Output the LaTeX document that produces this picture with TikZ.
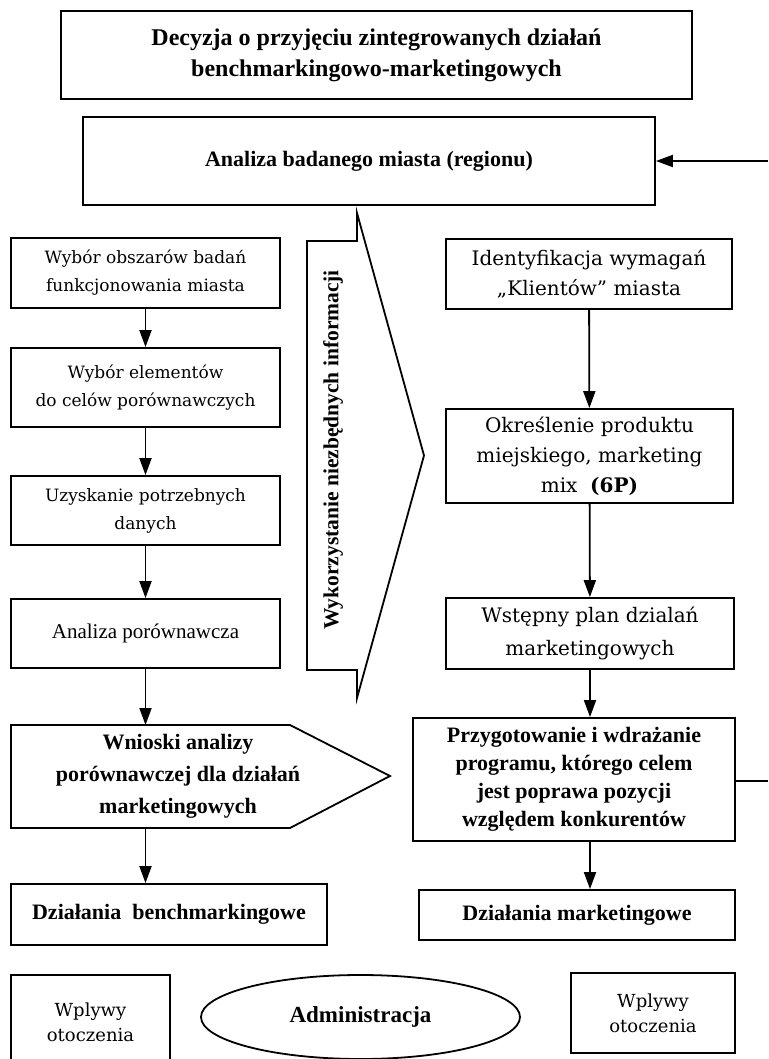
\documentclass[tikz,border=0pt]{standalone}
\usepackage{fontspec}
\setmainfont{Liberation Serif}
\newfontfamily\lucida{DejaVu Serif}
\usepackage{tikz}
\usetikzlibrary{shapes.geometric, arrows.meta, calc}

\begin{document}
\begin{tikzpicture}[x=1pt, y=-1pt,
    process/.style={rectangle, draw, line width=1.8pt, align=center, inner sep=0pt, font=\lucida\fontsize{17}{28}\selectfont},
    wideprocess/.style={process, font=\lucida\fontsize{20}{30}\selectfont},
    plainbox/.style={rectangle, draw, line width=1.8pt, align=center, inner sep=0pt, font=\fontsize{21}{28}\selectfont},
    boldbox/.style={rectangle, draw, line width=1.8pt, align=center, inner sep=0pt, font=\fontsize{22}{28}\selectfont\bfseries},
    influence/.style={rectangle, draw, line width=1.8pt, align=center, inner sep=0pt, font=\lucida\fontsize{18}{25}\selectfont},
    outline/.style={line width=1.8pt, line join=miter},
    arrow/.style={-{Triangle[length=17pt, width=12pt]}, line width=1.8pt}
]
\useasboundingbox (0,0) rectangle (768,1059);
\clip (0,0) rectangle (768,1059);

\node[boldbox, minimum width=631, minimum height=88, font=\fontsize{24}{31}\selectfont\bfseries] (decision) at (376.5,55) {Decyzja o przyjęciu zintegrowanych działań\\benchmarkingowo-marketingowych};
\node[boldbox, minimum width=572, minimum height=88] (analysis) at (369,161) {Analiza badanego miasta (regionu)};

\node[process, minimum width=269, minimum height=70] (areas) at (145.5,273) {Wybór obszarów badań\\funkcjonowania miasta};
\node[process, minimum width=269, minimum height=79] (elements) at (145.5,387.5) {Wybór elementów\\do celów porównawczych};
\node[process, minimum width=269, minimum height=69] (data) at (145.5,510.5) {Uzyskanie potrzebnych\\danych};
\node[plainbox, minimum width=269, minimum height=69] (compare) at (145.5,633.5) {Analiza porównawcza};
\node[font=\fontsize{22}{32}\selectfont\bfseries, align=center] (conclusions) at (178,776) {Wnioski analizy\\porównawczej dla działań\\marketingowych};
\coordinate (conclusions top) at (145.5,725);
\coordinate (conclusions bottom) at (145.5,828);
\draw[outline] (11,725) -- (290,725) -- (390,776) -- (290,828) -- (11,828) -- cycle;
\node[boldbox, minimum width=316, minimum height=61] (bench) at (169,914.5) {Działania~~benchmarkingowe};

\draw[outline] (307,241) -- (357,241) -- (357,213) -- (424,455.5) -- (357,698) -- (357,670) -- (307,670) -- cycle;
\node[rotate=90, font=\fontsize{21.5}{24}\selectfont\bfseries] (info) at (333,450) {Wykorzystanie niezbędnych informacji};

\node[wideprocess, minimum width=286, minimum height=70] (clients) at (589,274) {Identyfikacja wymagań\\„Klientów” miasta};
\node[wideprocess, minimum width=287, minimum height=94] (product) at (589.5,456) {Określenie produktu\\miejskiego, marketing\\mix~~\textbf{(6P)}};
\node[wideprocess, minimum width=288, minimum height=71, font=\lucida\fontsize{20}{33}\selectfont] (plan) at (590,633.5) {Wstępny plan dzialań\\marketingowych};
\node[boldbox, minimum width=322, minimum height=123] (program) at (574,779.5) {Przygotowanie i wdrażanie\\programu, którego celem\\jest poprawa pozycji\\względem konkurentów};
\node[boldbox, minimum width=316, minimum height=50] (marketing) at (577,915) {Działania marketingowe};

\node[influence, minimum width=159, minimum height=94] (envleft) at (90.5,1022) {Wplywy\\otoczenia};
\node[ellipse, draw, line width=1.8pt, minimum width=319, minimum height=84, inner sep=0pt, font=\fontsize{23}{28}\selectfont\bfseries] (admin) at (360.5,1017) {Administracja};
\node[influence, minimum width=164, minimum height=80] (envright) at (653,1013) {Wplywy\\otoczenia};

\coordinate (loop out) at (768,781);
\coordinate (loop in) at (768,161);

\draw[arrow] (areas) -- (elements);
\draw[arrow] (elements) -- (data);
\draw[arrow] (data) -- (compare);
\draw[arrow] (compare) -- (conclusions top);
\draw[arrow] (conclusions bottom) -- (bench.north -| conclusions bottom);
\draw[arrow] (clients) -- (product);
\draw[arrow] (product) -- (plan);
\draw[arrow] (plan) -- (plan |- program.north);
\draw[arrow] (program.south -| plan) -- (plan |- marketing.north);
\draw[line width=1.8pt] (program.east |- loop out) -- (loop out);
\draw[arrow] (loop in) -- (analysis);
\end{tikzpicture}
\end{document}
